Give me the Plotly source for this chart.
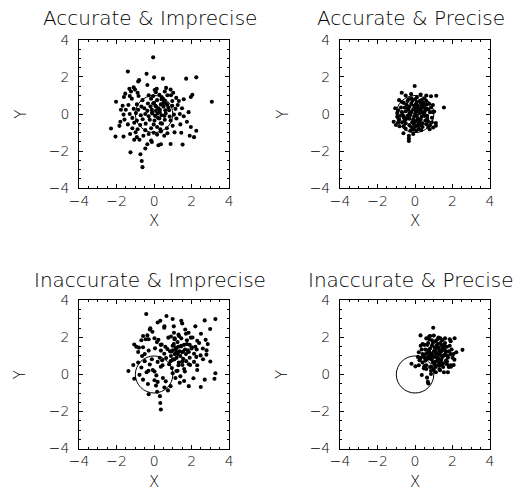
import plotly.graph_objects as go

# ---------------- data ----------------
titles = ["Accurate & Imprecise", "Accurate & Precise",
          "Inaccurate & Imprecise", "Inaccurate & Precise"]
tick_vals = [-4, -2, 0, 2, 4]
axis_range = [-4, 4]
circle_radius = 1.0

tl_pts = [
    (-0.05, 3.06), (-1.40, 2.30), (-0.40, 2.17), (0.0, 1.98), (0.47, 1.91), (1.71, 1.91), (2.25, 1.98),
    (-0.80, 1.83), (-0.85, 1.76), (-0.36, 1.57), (-1.09, 1.44), (-1.32, 1.36), (-1.02, 1.32), (0.03, 1.30),
    (0.14, 1.36), (0.64, 1.41), (0.88, 1.32), (0.09, 1.18), (0.57, 1.22), (1.02, 1.15), (-1.23, 1.22),
    (-0.88, 1.15), (-1.54, 1.10), (-1.61, 0.92), (-1.30, 0.97), (-1.19, 0.83), (-0.83, 0.97), (-0.29, 1.01),
    (-0.05, 0.97), (0.28, 1.04), (0.40, 0.92), (0.71, 1.01), (0.90, 1.01), (1.18, 0.87), (1.58, 0.80),
    (1.96, 0.92), (2.04, 1.04), (-2.03, 0.66), (-0.62, 0.75), (0.16, 0.75), (0.57, 0.73), (0.97, 0.70),
    (1.32, 0.70), (0.47, 0.83), (-0.16, 0.83), (-1.68, 0.45), (-1.37, 0.49), (-1.77, 0.23), (-1.51, 0.23),
    (-0.92, 0.52), (-0.68, 0.40), (-0.52, 0.31), (-0.33, 0.57), (-0.19, 0.40), (-0.05, 0.57), (0.07, 0.45),
    (0.23, 0.31), (0.36, 0.52), (0.50, 0.40), (0.64, 0.57), (0.76, 0.35), (0.97, 0.45), (1.14, 0.28),
    (1.26, 0.49), (1.49, 0.31), (-0.12, 0.23), (-0.36, 0.17), (0.10, 0.17), (0.31, 0.23), (-0.85, 0.23),
    (-1.09, 0.28), (-1.63, -0.03), (-1.30, 0.0), (-0.97, 0.05), (-0.71, -0.07), (-0.47, 0.0), (-0.29, -0.12),
    (-0.10, 0.03), (0.05, -0.10), (0.19, 0.03), (0.40, -0.07), (0.62, 0.03), (0.83, -0.14), (1.06, -0.03),
    (1.37, 0.0), (1.84, 0.10), (1.58, -0.12), (-1.58, -0.30), (-1.16, -0.21), (-0.92, -0.35), (-0.61, -0.28),
    (-0.23, -0.31), (0.02, -0.35), (0.28, -0.24), (0.57, -0.31), (0.88, -0.35), (1.19, -0.24), (-1.80, -0.42),
    (-1.40, -0.56), (-1.85, -0.64), (-1.06, -0.47), (-0.74, -0.59), (-0.45, -0.52), (-0.02, -0.56), (0.16, -0.70),
    (0.42, -0.52), (0.68, -0.77), (0.33, -0.82), (0.99, -0.64), (1.40, -0.56), (1.75, -0.42), (1.96, -0.70),
    (-1.16, -0.77), (-0.88, -0.82), (-0.47, -0.87), (-0.16, -0.77), (-2.30, -0.78), (-2.06, -1.22), (-1.63, -1.22),
    (-1.28, -1.08), (-0.99, -0.99), (-0.92, -1.25), (-0.78, -1.39), (-0.57, -1.17), (-0.29, -1.08), (-0.02, -1.01),
    (0.16, -1.11), (0.36, -0.94), (0.54, -1.17), (0.71, -1.04), (1.09, -0.99), (2.13, -1.25), (2.25, -0.90),
    (1.90, -1.17), (1.45, -1.01), (-1.06, -1.39), (-0.12, -1.51), (-0.36, -1.63), (0.23, -1.69), (0.36, -1.63),
    (0.88, -1.62), (1.52, -1.65), (-1.26, -2.07), (-0.73, -2.17), (-0.66, -2.54), (-0.62, -2.87), (-0.47, -1.86),
    (-0.16, -1.43), (3.08, 0.66), (0.1, 0.4), (0.3, 0.1), (0.5, 0.6), (0.2, -0.2), (0.6, 0.2), (0.4, 0.8),
    (0.0, 0.6), (0.7, 0.5), (-0.1, 0.1), (0.35, -0.5), (0.8, 0.2), (0.55, -0.1),
]

tr_pts = [
    (0.1, 0.2), (-0.3, 0.4), (0.5, -0.1), (-0.6, -0.2), (0.2, -0.5), (0.0, 0.0), (-0.1, -0.3), (0.3, 0.6),
    (-0.4, 0.7), (0.6, 0.3), (0.7, -0.4), (-0.7, 0.1), (0.4, 0.1), (-0.2, 0.1), (0.1, -0.1), (0.2, 0.3),
    (-0.5, -0.5), (0.5, 0.5), (-0.3, -0.6), (0.3, -0.3), (0.8, 0.1), (-0.8, -0.1), (0.0, 0.8), (0.0, -0.7),
    (0.6, 0.7), (-0.6, 0.6), (0.7, -0.7), (-0.5, -0.8), (0.15, 0.45), (-0.15, -0.45), (0.35, -0.15), (-0.35, 0.25),
    (0.45, 0.35), (-0.45, -0.25), (0.25, 0.05), (-0.25, -0.05), (0.05, 0.55), (-0.05, -0.15), (0.55, -0.35),
    (-0.55, 0.35), (0.9, -0.2), (-0.9, 0.2), (0.75, 0.55), (-0.7, -0.45), (0.1, 0.9), (-0.2, 0.85), (0.4, -0.7),
    (-0.1, -0.85), (0.65, -0.1), (-0.65, -0.05), (0.3, 0.25), (-0.2, 0.55), (0.5, 0.05), (-0.4, -0.1), (0.0, 0.35),
    (0.15, -0.25), (-0.3, -0.25), (0.35, 0.75), (-0.45, 0.5), (0.6, -0.55), (0.85, 0.35), (-0.85, -0.3),
    (0.2, -0.8), (-0.6, -0.65), (0.45, 0.6), (-0.35, 0.8), (0.7, 0.25), (-0.75, 0.35), (0.05, 0.15), (-0.1, 0.25),
    (0.25, -0.45), (-0.2, -0.7), (0.55, 0.2), (-0.55, -0.35), (0.1, 0.65), (0.4, -0.5), (-0.05, 0.45), (0.3, -0.6),
    (-0.15, 0.7), (0.8, -0.6), (0.95, 0.1), (-0.95, -0.15), (0.2, 0.1), (-0.3, 0.05), (0.4, 0.4), (-0.5, 0.15),
    (0.0, -0.4), (0.6, 0.5), (-0.25, -0.9), (0.5, 0.85), (-0.7, 0.65), (0.15, -0.6), (0.35, 0.45), (-0.4, 0.3),
    (0.65, -0.25), (-0.05, -0.55), (0.25, 0.7), (-0.6, -0.15), (0.1, -0.35), (0.45, -0.05),
    (-0.02, 1.51), (-0.71, 1.15), (-0.21, 1.08), (0.85, 0.96), (1.13, 0.99), (1.54, 0.35), (-1.14, -0.42),
    (-1.02, -0.59), (-0.83, -0.66), (-0.62, -1.04), (-0.33, -1.18), (-0.33, -1.32), (-0.33, -1.46), (-0.10, -1.08),
    (0.07, -0.90), (0.33, -0.87), (0.78, -0.82), (0.97, -0.73), (1.11, -0.49), (1.11, -0.63), (-1.06, 0.31),
    (-0.95, 0.05), (0.95, 0.49), (1.02, 0.14), (-0.5, 1.0), (0.3, 1.05), (0.6, 1.0), (-0.85, 0.75), (-0.9, -0.45),
    (0.9, -0.45),
]

bl_pts = [
    (-0.42, 3.27), (0.19, 2.81), (0.33, 2.90), (0.66, 3.16), (0.99, 3.00), (1.45, 2.90), (2.70, 2.92), (3.27, 2.99),
    (0.54, 2.52), (-0.23, 2.43), (-0.09, 2.31), (-0.59, 2.08), (-0.36, 2.11), (-0.68, 1.85), (-1.06, 1.62),
    (-0.81, 1.45), (-0.29, 1.90), (0.02, 1.96), (0.23, 1.87), (0.40, 1.62), (0.76, 1.99), (1.06, 2.25), (1.09, 1.90),
    (1.33, 2.08), (1.66, 2.43), (1.84, 2.25), (1.96, 1.99), (2.30, 1.82), (2.99, 2.46), (2.75, 1.87), (2.86, 1.64),
    (-0.85, 1.21), (-0.59, 1.47), (-0.29, 1.29), (0.05, 1.41), (0.36, 1.29), (0.54, 1.12), (0.71, 1.38), (0.92, 1.24),
    (0.99, 1.55), (1.16, 1.35), (1.26, 1.10), (1.44, 1.52), (1.54, 1.24), (1.75, 1.64), (1.85, 1.21), (2.01, 1.47),
    (2.13, 1.12), (2.27, 1.35), (2.48, 1.03), (2.61, 0.82), (2.79, 1.07), (-0.64, 1.00), (-0.85, 0.65), (-1.11, 0.51),
    (-0.50, 0.72), (-0.23, 0.54), (-0.12, 0.82), (0.19, 0.68), (0.43, 0.77), (0.64, 0.89), (0.88, 0.72), (1.09, 0.82),
    (1.32, 0.65), (1.51, 0.51), (1.71, 0.72), (1.92, 0.51), (2.13, 0.68), (-1.37, 0.19), (-1.06, -0.23), (-0.78, -0.02),
    (-0.59, -0.28), (-0.33, -0.51), (-0.29, -1.07), (0.02, 0.16), (0.12, -0.05), (0.02, -0.31), (0.19, -0.40),
    (0.47, -0.19), (0.62, -0.37), (0.88, -0.63), (0.74, -0.86), (0.99, 0.07), (1.19, 0.19), (1.14, -0.19),
    (1.40, -0.10), (1.37, -0.45), (1.64, 0.16), (1.85, -0.63), (2.30, 0.24), (2.49, -0.68), (2.70, -0.28),
    (3.27, 0.07), (3.22, -0.23), (0.16, -0.93), (0.31, -1.17), (0.33, -1.54), (0.36, -1.89), (-0.07, 0.24),
    (-0.40, 0.12), (0.36, 0.42), (-0.68, 0.38),
    (1.1, 1.1), (1.3, 1.5), (1.5, 1.2), (1.0, 1.3), (1.2, 0.9), (1.4, 1.0), (1.6, 1.6), (1.7, 1.1), (0.9, 1.0),
    (1.35, 1.25), (1.55, 0.85), (1.05, 1.65), (1.25, 1.75), (1.45, 1.55), (1.8, 1.3), (0.85, 1.25), (1.15, 1.45),
    (1.65, 1.35), (1.9, 1.6), (1.2, 1.2), (1.0, 0.8), (1.5, 0.7), (1.3, 0.5), (1.6, 0.3), (1.9, 0.9), (2.0, 1.4),
    (2.2, 1.5), (1.75, 1.85), (1.45, 1.95), (1.1, 1.95), (0.9, 2.05), (1.3, 2.15), (1.7, 2.2), (2.05, 2.0),
    (2.4, 1.7), (2.6, 1.4), (2.25, 0.95), (1.85, 0.55), (1.25, 0.2), (0.95, 0.35), (0.8, 0.55), (0.6, 1.5),
    (0.35, 1.6), (0.15, 1.75), (-0.45, 1.9), (-0.2, 2.5), (0.55, 2.6), (1.05, 2.6), (1.5, 2.75), (2.2, 2.6),
    (2.5, 2.2), (-0.5, 1.1), (-0.95, 1.5), (0.3, 0.9), (0.45, 0.5), (-0.3, 0.2), (0.1, -0.6), (0.55, -0.7),
    (1.6, -0.35), (2.1, -0.2), (2.3, 0.5), (3.0, 0.7), (2.8, 1.3),
]

br_pts = [
    (1.1, 1.2), (0.8, 1.4), (1.5, 1.0), (0.5, 0.9), (1.3, 0.6), (1.0, 1.0), (0.9, 0.8), (1.4, 1.6), (0.7, 1.7),
    (1.6, 1.3), (1.7, 0.7), (0.4, 1.1), (1.2, 1.1), (0.9, 1.1), (1.2, 0.9), (1.3, 1.3), (0.6, 0.5), (1.6, 1.5),
    (0.8, 0.4), (1.4, 0.8), (1.9, 1.1), (0.3, 0.9), (1.1, 1.8), (1.1, 0.4), (1.6, 1.7), (0.5, 1.6), (1.8, 0.4),
    (0.6, 0.3), (1.25, 1.45), (0.95, 0.65), (1.45, 0.95), (0.75, 1.25), (1.55, 1.35), (0.65, 0.85), (1.35, 1.05),
    (0.85, 0.95), (1.15, 1.55), (1.05, 0.95), (1.65, 0.75), (0.55, 1.35), (2.0, 0.9), (0.2, 1.2), (1.85, 1.55),
    (0.4, 0.65), (1.2, 1.9), (0.9, 1.85), (1.5, 0.4), (1.0, 0.25), (1.75, 1.0), (0.45, 1.05), (1.4, 1.25),
    (0.9, 1.55), (1.6, 1.05), (0.7, 1.0), (1.1, 1.35), (1.25, 0.85), (0.8, 0.85), (1.45, 1.85), (0.65, 1.6),
    (1.7, 0.55), (1.95, 1.35), (0.25, 0.8), (1.3, 0.3), (0.5, 0.45), (1.55, 1.6), (0.75, 1.9), (1.8, 1.25),
    (0.35, 1.35), (1.15, 1.15), (1.0, 1.25), (1.35, 0.65), (0.9, 0.4), (1.65, 1.2), (0.55, 0.75), (1.2, 1.65),
    (1.5, 0.6), (1.05, 1.45), (1.4, 0.5), (0.95, 1.7), (1.9, 0.5), (2.05, 1.1), (0.15, 0.95), (1.3, 1.1),
    (0.8, 1.15), (1.5, 1.4), (0.6, 1.15), (1.1, 0.7), (1.7, 1.5), (0.85, 0.2), (1.6, 1.95), (0.4, 1.65),
    (1.25, 0.5), (1.45, 1.45), (0.7, 1.3), (1.75, 0.9), (1.05, 0.55), (1.35, 1.7), (0.5, 0.95), (1.2, 0.75),
    (1.55, 1.05), (1.0, 2.1), (0.75, 2.05), (1.25, 2.0), (0.3, 1.55), (2.2, 1.2), (2.1, 0.8), (0.2, 0.5),
    (1.9, 1.8), (0.6, 1.95), (1.35, 1.95),
    (0.97, 2.52), (0.29, 2.11), (0.81, 2.08), (1.85, 1.90), (2.11, 1.96), (2.53, 1.33), (-0.19, 0.58),
    (0.02, 0.44), (0.36, -0.03), (0.64, -0.17), (0.68, -0.40), (0.71, -0.49), (0.85, 0.03), (1.11, 0.12),
    (1.33, 0.23), (1.54, 0.12), (1.75, 0.12), (1.92, 0.42), (2.06, 0.51), (0.24, 0.77), (0.47, 0.33),
]

panels = [tl_pts, tr_pts, bl_pts, br_pts]

# ---------------- layout geometry (pixels -> paper) ----------------
W, H = 532, 504
FONT = "DejaVu Sans"
WEIGHT = 200
x_doms = [[71 / W, 225 / W], [339 / W, 493 / W]]
y_doms = [[1 - 186 / H, 1 - 33 / H], [1 - 455 / H, 1 - 302 / H]]

fig = go.Figure()
layout = dict(
    width=W, height=H, margin=dict(l=0, r=0, t=0, b=0),
    paper_bgcolor="white", plot_bgcolor="white", showlegend=False,
    font=dict(family=FONT, color="black", size=13, weight=WEIGHT),
)
annotations = []
shapes = []

for i, pts in enumerate(panels):
    r, c = divmod(i, 2)
    n = "" if i == 0 else str(i + 1)
    xs = [p[0] for p in pts]
    ys = [p[1] for p in pts]
    fig.add_trace(go.Scatter(
        x=xs, y=ys, mode="markers", xaxis="x" + n, yaxis="y" + n,
        marker=dict(size=4.1, color="black", line=dict(width=0)), hoverinfo="skip",
    ))
    common = dict(
        range=axis_range, tickvals=tick_vals, ticks="inside", ticklen=4, tickwidth=1,
        tickcolor="black", showline=True, linecolor="black", linewidth=1, mirror="allticks",
        showgrid=False, zeroline=False,
        minor=dict(ticks="inside", dtick=0.5, tick0=0, ticklen=2, tickwidth=1, tickcolor="black", showgrid=False),
        tickfont=dict(family=FONT, size=14, color="black", weight=WEIGHT),
    )
    layout["xaxis" + n] = dict(common, domain=x_doms[c], anchor="y" + n, ticklabelstandoff=0)
    layout["yaxis" + n] = dict(common, domain=y_doms[r], anchor="x" + n, ticklabelstandoff=6)
    shapes.append(dict(type="circle", xref="x" + n, yref="y" + n,
                       x0=-circle_radius, y0=-circle_radius, x1=circle_radius, y1=circle_radius,
                       line=dict(color="black", width=1), layer="above"))
    xc = (x_doms[c][0] + x_doms[c][1]) / 2
    title_y = 1 - (10 / H) if r == 0 else 1 - (281 / H)
    annotations.append(dict(text=titles[i], xref="paper", yref="paper", x=xc - 4 / W, y=title_y,
                            xanchor="center", yanchor="middle", showarrow=False,
                            font=dict(family=FONT, size=20, color="black", weight=WEIGHT)))
    xt_y = 1 - 220 / H if r == 0 else 1 - 490 / H
    annotations.append(dict(text="X", xref="paper", yref="paper", x=xc, y=xt_y,
                            xanchor="center", yanchor="middle", showarrow=False,
                            font=dict(family=FONT, size=15, color="black", weight=WEIGHT)))
    yt_x = 11 / W if c == 0 else 280 / W
    yc = (y_doms[r][0] + y_doms[r][1]) / 2
    annotations.append(dict(text="Y", xref="paper", yref="paper", x=yt_x, y=yc, textangle=-90,
                            xanchor="center", yanchor="middle", showarrow=False,
                            font=dict(family=FONT, size=15, color="black", weight=WEIGHT)))

layout["annotations"] = annotations
layout["shapes"] = shapes
fig.update_layout(**layout)
fig.write_html("out.html")
